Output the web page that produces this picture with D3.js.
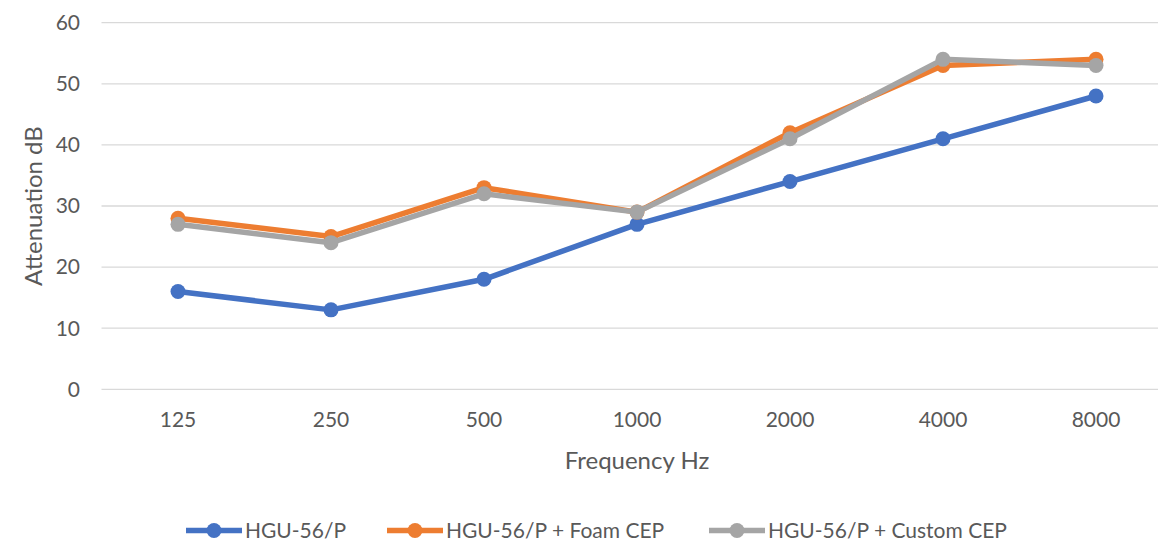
<!DOCTYPE html>
<html>
<head>
<meta charset="utf-8">
<script src="https://cdn.jsdelivr.net/npm/d3@7"></script>
<style>
  body { margin: 0; background: #fff; }
  svg text { font-family: Lato, "Open Sans", sans-serif; fill: #595959; }
</style>
</head>
<body>
<svg id="chart" width="1158" height="541"></svg>
<script>
const categories = ["125", "250", "500", "1000", "2000", "4000", "8000"];
const seriesNames = ["HGU-56/P", "HGU-56/P + Foam CEP", "HGU-56/P + Custom CEP"];
const hgu = [16, 13, 18, 27, 34, 41, 48];
const foam = [28, 25, 33, 29, 42, 53, 54];
const custom = [27, 24, 32, 29, 41, 54, 53];
const yTicks = [0, 10, 20, 30, 40, 50, 60];
const colors = ["#4472C4", "#ED7D31", "#A5A5A5"];

const series = [hgu, foam, custom].map((values, i) => ({name: seriesNames[i], values, color: colors[i]}));

const svg = d3.select("svg#chart");
const plotLeft = 101.5, plotRight = 1172.5, plotTop = 22.7, plotBottom = 389.3;

const x = d3.scaleBand().domain(categories).range([plotLeft, plotRight]);
const y = d3.scaleLinear().domain([0, 60]).range([plotBottom, plotTop]);

// gridlines
svg.append("g")
  .selectAll("line")
  .data(yTicks)
  .join("line")
  .attr("x1", plotLeft).attr("x2", 1158)
  .attr("y1", d => y(d)).attr("y2", d => y(d))
  .attr("stroke", "#d9d9d9").attr("stroke-width", 1.3);

// y tick labels
svg.append("g")
  .selectAll("text")
  .data(yTicks)
  .join("text")
  .attr("x", 80).attr("y", d => y(d))
  .attr("dy", "0.35em")
  .attr("text-anchor", "end")
  .attr("font-size", 21)
  .text(d => d);

// x tick labels
svg.append("g")
  .selectAll("text")
  .data(categories)
  .join("text")
  .attr("x", d => x(d) + x.bandwidth() / 2)
  .attr("y", 420)
  .attr("dy", "0.35em")
  .attr("text-anchor", "middle")
  .attr("font-size", 21)
  .text(d => d);

// axis titles
svg.append("text")
  .attr("x", 637).attr("y", 461).attr("dy", "0.35em")
  .attr("text-anchor", "middle").attr("font-size", 24)
  .text("Frequency Hz");

svg.append("text")
  .attr("transform", "translate(34,206) rotate(-90)")
  .attr("dy", "0.35em")
  .attr("text-anchor", "middle").attr("font-size", 24)
  .text("Attenuation dB");

const line = d3.line()
  .x((d, i) => x(categories[i]) + x.bandwidth() / 2)
  .y(d => y(d));

const g = svg.append("g");
series.forEach(s => {
  g.append("path")
    .attr("d", line(s.values))
    .attr("fill", "none")
    .attr("stroke", s.color)
    .attr("stroke-width", 5.5)
    .attr("stroke-linejoin", "round");
  g.selectAll(null)
    .data(s.values)
    .join("circle")
    .attr("cx", (d, i) => x(categories[i]) + x.bandwidth() / 2)
    .attr("cy", d => y(d))
    .attr("r", 7.5)
    .attr("fill", s.color);
});

// legend
const legendX = [186, 387, 709];
const legend = svg.append("g")
  .selectAll("g")
  .data(series)
  .join("g")
  .attr("transform", (d, i) => `translate(${legendX[i]},530.5)`);
legend.append("line")
  .attr("x1", 0).attr("x2", 56)
  .attr("stroke", d => d.color).attr("stroke-width", 5.5);
legend.append("circle")
  .attr("cx", 28).attr("r", 7.5)
  .attr("fill", d => d.color);
legend.append("text")
  .attr("x", 59).attr("dy", "0.35em")
  .attr("font-size", 21)
  .text(d => d.name);
</script>
</body>
</html>
